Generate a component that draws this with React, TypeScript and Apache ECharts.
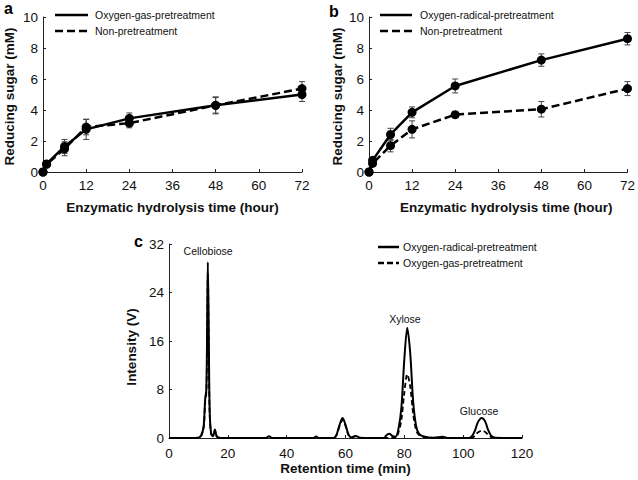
import React, { useEffect, useRef } from "react";
import * as echarts from "echarts";

// Panel a / b: time points (hour)
const hours = [0, 1, 6, 12, 24, 48, 72];
const xTicksAB = [0, 12, 24, 36, 48, 60, 72];

// Panel a
const aGas = [0, 0.52, 1.65, 2.75, 3.46, 4.3, 5.0];
const aGasErr = [0, 0.15, 0.45, 0.65, 0.35, 0.55, 0.45];
const aNon = [0, 0.5, 1.5, 2.9, 3.15, 4.3, 5.38];
const aNonErr = [0, 0.1, 0.45, 0.5, 0.3, 0.5, 0.45];

// Panel b
const bRad = [0, 0.75, 2.42, 3.85, 5.55, 7.22, 8.6];
const bRadErr = [0, 0.15, 0.4, 0.35, 0.45, 0.4, 0.4];
const bNon = [0, 0.55, 1.7, 2.75, 3.7, 4.05, 5.38];
const bNonErr = [0, 0.1, 0.4, 0.55, 0.2, 0.5, 0.45];

// Panel c: chromatograms [retention time (min), intensity (V)]
const chromRadical = [
  [0, 0], [8, 0], [10, 0.05], [11, 0.5], [11.8, 2], [12.3, 6.5], [12.7, 8], [13, 20], [13.2, 29],
  [13.5, 18], [13.8, 5], [14.3, 0.8], [15, 0.3], [15.6, 1.4], [16.2, 0.3], [17, 0.05], [20, 0],
  [33, 0], [34, 0.3], [35, 0], [49, 0], [50, 0.25], [51, 0], [56, 0], [57, 0.6], [58, 2.2],
  [59, 3.3], [60, 2.2], [61, 0.6], [62, 0.1], [63.5, 0.35], [65, 0.05], [73, 0], [74, 0.5],
  [75, 0.7], [76, 0.3], [77, 0.2], [78, 1.5], [79, 5], [80, 13], [81, 18.2], [82, 14], [83, 6],
  [84, 2], [85, 0.7], [87, 0.2], [90, 0.05], [93, 0.2], [95, 0], [102, 0], [103, 0.3], [104, 1.2],
  [105, 2.6], [106.3, 3.3], [107.5, 2.7], [108.5, 1.3], [109.5, 0.4], [111, 0.05], [120, 0],
];
const chromGas = [
  [0, 0], [8, 0], [10, 0.05], [11, 0.4], [11.8, 1.8], [12.3, 6], [12.7, 7.5], [13, 18], [13.2, 27],
  [13.5, 16], [13.8, 4.5], [14.3, 0.7], [15, 0.3], [15.6, 1.2], [16.2, 0.3], [17, 0.05], [20, 0],
  [56, 0], [57, 0.5], [58, 2], [59, 3.0], [60, 2], [61, 0.5], [62, 0.1], [63.5, 0.3], [65, 0],
  [77, 0], [78, 0.9], [79, 3], [80, 7.5], [81, 10.5], [82, 8.5], [83, 4], [84, 1.3], [85, 0.5],
  [87, 0.1], [90, 0], [103, 0], [104, 0.4], [105, 0.9], [106.3, 1.2], [107.5, 1.0], [108.5, 0.5],
  [109.5, 0.15], [111, 0], [120, 0],
];
const peakLabels = [
  { name: "Cellobiose", coord: [13.3, 30.8] },
  { name: "Xylose", coord: [80.2, 19.7] },
  { name: "Glucose", coord: [105.4, 4.5] },
];

const FONT = "Liberation Sans, Arial, Helvetica, sans-serif";

function errData(vals: number[], errs: number[]) {
  return hours.map((t, i) => [t, vals[i], errs[i]]);
}

function errSeries(vals: number[], errs: number[], idx: number) {
  return {
    type: "custom",
    xAxisIndex: idx,
    yAxisIndex: idx,
    z: 1,
    silent: true,
    data: errData(vals, errs),
    renderItem: (params: any, api: any) => {
      const x = api.value(0);
      const y = api.value(1);
      const e = api.value(2);
      if (!e) return null;
      const top = api.coord([x, y + e]);
      const bot = api.coord([x, y - e]);
      const w = 3;
      const st = { stroke: "#444", lineWidth: 1 };
      return {
        type: "group",
        children: [
          { type: "line", shape: { x1: top[0], y1: top[1], x2: bot[0], y2: bot[1] }, style: st },
          { type: "line", shape: { x1: top[0] - w, y1: top[1], x2: top[0] + w, y2: top[1] }, style: st },
          { type: "line", shape: { x1: bot[0] - w, y1: bot[1], x2: bot[0] + w, y2: bot[1] }, style: st },
        ],
      };
    },
  };
}

function lineSeries(name: string, vals: number[], idx: number, dashed: boolean) {
  return {
    type: "line",
    name,
    xAxisIndex: idx,
    yAxisIndex: idx,
    z: 3,
    data: hours.map((t, i) => [t, vals[i]]),
    symbol: "circle",
    symbolSize: 9,
    itemStyle: { color: "#000" },
    lineStyle: { color: "#000", width: 2.5, type: dashed ? [8, 4] : "solid" },
  };
}

const axisLine = { show: true, lineStyle: { color: "#222", width: 1 } };
const tickStyle = { show: true, inside: true, length: 3, lineStyle: { color: "#222" } };
const labelStyle = { color: "#111", fontSize: 13.5, fontFamily: FONT };
const nameStyle = { color: "#111", fontSize: 13.5, fontWeight: "bold" as const, fontFamily: FONT };

function xAxisAB(idx: number, pad: number) {
  return {
    type: "value",
    gridIndex: idx,
    min: 0,
    max: 72,
    interval: 12,
    axisLine,
    axisTick: tickStyle,
    axisLabel: { ...labelStyle, margin: 6, customValues: xTicksAB },
    splitLine: { show: false },
    name: "Enzymatic hydrolysis time (hour)",
    nameLocation: "middle",
    nameGap: 28,
    nameTextStyle: { ...nameStyle, padding: [0, 0, 0, pad] },
  };
}

function yAxisAB(idx: number, gap: number) {
  return {
    type: "value",
    gridIndex: idx,
    min: 0,
    max: 10,
    interval: 2,
    axisLine,
    axisTick: tickStyle,
    axisLabel: { ...labelStyle, margin: 5 },
    splitLine: { show: false },
    name: "Reducing sugar (mM)",
    nameLocation: "middle",
    nameGap: gap,
    nameTextStyle: { ...nameStyle, padding: [0, 4, 0, 0] },
  };
}

function legendItems(x1: number, x2: number, tx: number, y: number, label: string, dashed: boolean, lw: number, dash: number[]) {
  return [
    {
      type: "line",
      shape: { x1, y1: y, x2, y2: y },
      style: { stroke: "#000", lineWidth: lw, lineDash: dashed ? dash : null },
    },
    {
      type: "text",
      x: tx,
      y,
      style: { text: label, fill: "#111", fontSize: 10.5, fontFamily: FONT, textVerticalAlign: "middle", verticalAlign: "middle" },
    },
  ];
}

export default function App() {
  const ref = useRef<HTMLDivElement>(null);
  useEffect(() => {
    if (!ref.current) return;
    const chart = echarts.init(ref.current, null, { renderer: "svg" });
    const option: any = {
      animation: false,
      backgroundColor: "#fff",
      grid: [
        { left: 43, top: 17, width: 259, height: 155 },
        { left: 369, top: 17, width: 261, height: 155 },
        { left: 169, top: 244, width: 353, height: 194 },
      ],
      xAxis: [
        xAxisAB(0, 0),
        xAxisAB(1, 16),
        {
          type: "value",
          gridIndex: 2,
          min: 0,
          max: 120,
          interval: 20,
          axisLine,
          axisTick: tickStyle,
          axisLabel: { ...labelStyle, margin: 8 },
          splitLine: { show: false },
          name: "Retention time (min)",
          nameLocation: "middle",
          nameGap: 23,
          nameTextStyle: nameStyle,
        },
      ],
      yAxis: [
        yAxisAB(0, 27),
        yAxisAB(1, 25),
        {
          type: "value",
          gridIndex: 2,
          min: 0,
          max: 32,
          interval: 8,
          axisLine,
          axisTick: tickStyle,
          axisLabel: { ...labelStyle, margin: 5 },
          splitLine: { show: false },
          name: "Intensity (V)",
          nameLocation: "middle",
          nameGap: 26,
          nameTextStyle: { ...nameStyle, padding: [0, 12, 0, 0] },
        },
      ],
      series: [
        errSeries(aGas, aGasErr, 0),
        errSeries(aNon, aNonErr, 0),
        lineSeries("Non-pretreatment", aNon, 0, true),
        lineSeries("Oxygen-gas-pretreatment", aGas, 0, false),
        errSeries(bRad, bRadErr, 1),
        errSeries(bNon, bNonErr, 1),
        lineSeries("Non-pretreatment", bNon, 1, true),
        lineSeries("Oxygen-radical-pretreatment", bRad, 1, false),
        {
          type: "line",
          name: "Oxygen-radical-pretreatment",
          xAxisIndex: 2,
          yAxisIndex: 2,
          data: chromRadical,
          symbol: "none",
          smooth: 0.3,
          z: 2,
          lineStyle: { color: "#000", width: 2 },
          markPoint: {
            symbol: "circle",
            symbolSize: 1,
            itemStyle: { color: "rgba(0,0,0,0)" },
            label: { show: true, position: "inside", formatter: "{b}", color: "#111", fontSize: 10.5, fontFamily: FONT },
            data: peakLabels.map((p) => ({ name: p.name, coord: p.coord })),
          },
        },
        {
          type: "line",
          name: "Oxygen-gas-pretreatment",
          xAxisIndex: 2,
          yAxisIndex: 2,
          data: chromGas,
          symbol: "none",
          smooth: 0.3,
          z: 3,
          lineStyle: { color: "#000", width: 1.8, type: [5, 3] },
        },
      ],
      graphic: [
        { type: "text", x: 4, y: 16, style: { text: "a", fill: "#000", fontSize: 16, fontWeight: "bold", fontFamily: FONT, verticalAlign: "bottom", textVerticalAlign: "bottom" } },
        { type: "text", x: 329, y: 19, style: { text: "b", fill: "#000", fontSize: 16, fontWeight: "bold", fontFamily: FONT, verticalAlign: "bottom", textVerticalAlign: "bottom" } },
        { type: "text", x: 134, y: 249, style: { text: "c", fill: "#000", fontSize: 16, fontWeight: "bold", fontFamily: FONT, verticalAlign: "bottom", textVerticalAlign: "bottom" } },
        ...legendItems(55, 88, 95, 15, "Oxygen-gas-pretreatment", false, 2.5, [8, 4]),
        ...legendItems(55, 88, 95, 31, "Non-pretreatment", true, 2.5, [8, 4]),
        ...legendItems(380, 412, 420, 15, "Oxygen-radical-pretreatment", false, 2.5, [8, 4]),
        ...legendItems(380, 412, 420, 31, "Non-pretreatment", true, 2.5, [8, 4]),
        ...legendItems(378, 399, 403, 247, "Oxygen-radical-pretreatment", false, 2.5, [6, 3]),
        ...legendItems(378, 399, 403, 263, "Oxygen-gas-pretreatment", true, 2.5, [6, 3]),
      ],
    };
    chart.setOption(option);
    return () => chart.dispose();
  }, []);
  return (
    <div
      ref={ref}
      style={{ position: "absolute", left: 0, top: 0, width: 638, height: 480, background: "#fff" }}
    />
  );
}
